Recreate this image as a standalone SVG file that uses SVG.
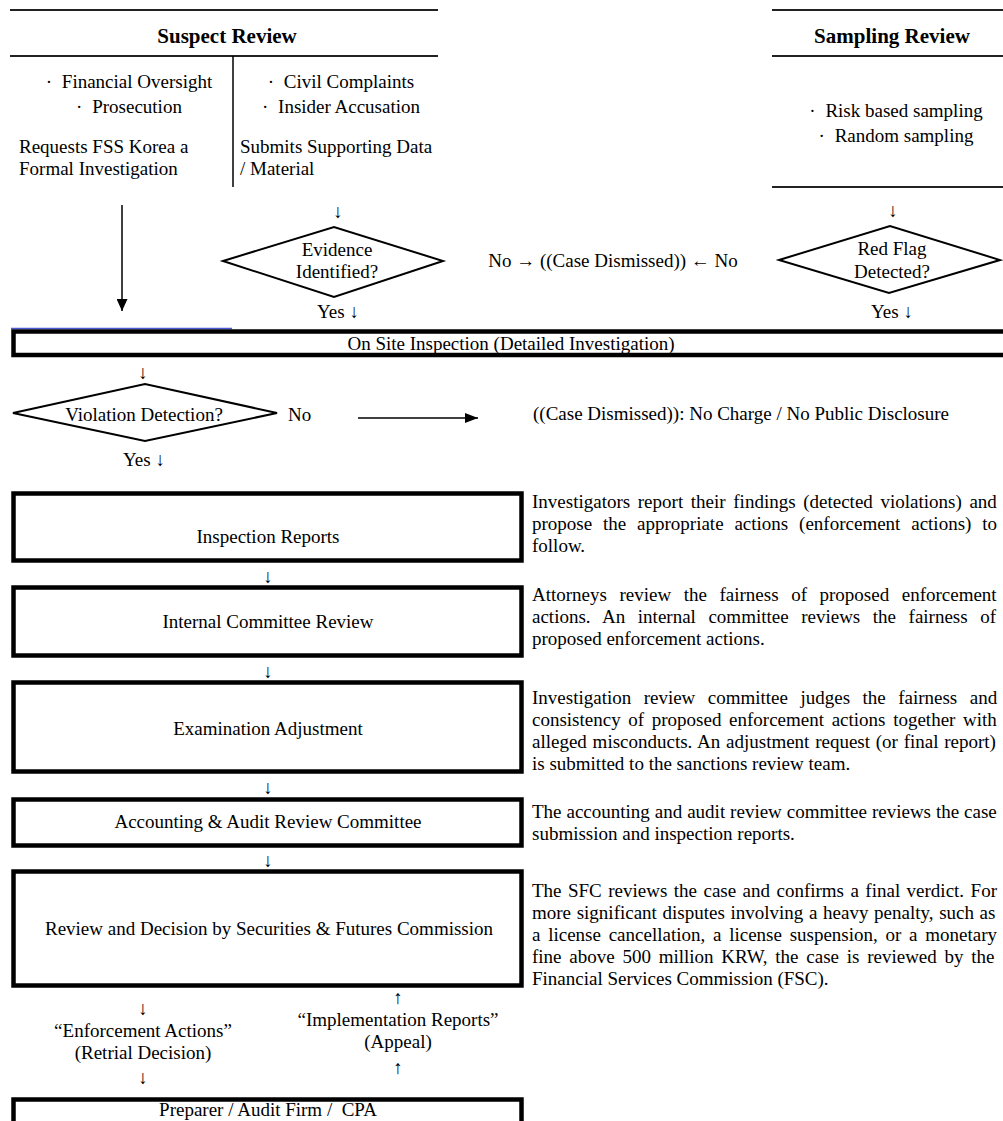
<svg xmlns="http://www.w3.org/2000/svg" width="1003" height="1121" viewBox="0 0 1003 1121">
<defs>
<marker id="ah" markerWidth="12" markerHeight="11" refX="12" refY="5.5" orient="auto" markerUnits="userSpaceOnUse"><path d="M0,0 L12,5.5 L0,11 z" fill="#000"/></marker>
<marker id="ah2" markerWidth="13" markerHeight="10" refX="13" refY="5" orient="auto" markerUnits="userSpaceOnUse"><path d="M0,0 L13,5 L0,10 z" fill="#000"/></marker>
</defs>
<style>
text{font-family:"Liberation Serif","Times New Roman",serif;font-size:19px;fill:#000}
.h{font-weight:bold;font-size:21px}
.m{text-anchor:middle}
.rule{stroke:#222;stroke-width:2;fill:none}
.box{fill:none;stroke:#000;stroke-width:4.5}
.dia{fill:none;stroke:#000;stroke-width:2}
.ln{stroke:#000;stroke-width:1.5;fill:none}
</style>
<rect width="1003" height="1121" fill="#fff"/>

<g id="suspect-review">
<line class="rule" x1="10" y1="10" x2="438" y2="10"/>
<text class="h m" x="227" y="43">Suspect Review</text>
<line class="rule" x1="10" y1="56" x2="438" y2="56"/>
<line class="ln" x1="233" y1="56" x2="233" y2="187"/>
<text class="m" x="129" y="88">· <tspan dx="5">Financial Oversight</tspan></text>
<text class="m" x="129" y="113">· <tspan dx="5">Prosecution</tspan></text>
<text x="19" y="153">Requests FSS Korea a</text>
<text x="19" y="175">Formal Investigation</text>
<text class="m" x="341" y="88">· <tspan dx="5">Civil Complaints</tspan></text>
<text class="m" x="341" y="113">· <tspan dx="5">Insider Accusation</tspan></text>
<text x="240" y="153">Submits Supporting Data</text>
<text x="240" y="175">/ Material</text>
</g>

<g id="sampling-review">
<line class="rule" x1="772" y1="10" x2="1003" y2="10"/>
<text class="h m" x="892" y="43">Sampling Review</text>
<line class="rule" x1="772" y1="56" x2="1003" y2="56"/>
<text class="m" x="896" y="117">· <tspan dx="5">Risk based sampling</tspan></text>
<text class="m" x="896" y="142">· <tspan dx="5">Random sampling</tspan></text>
<line class="rule" x1="772" y1="187" x2="1003" y2="187"/>
</g>

<g id="evidence-identified">
<polygon class="dia" points="223,261 334,227 443,261 334,297"/>
<text class="m" x="337" y="256">Evidence</text>
<text class="m" x="337" y="278">Identified?</text>
</g>

<g id="case-dismissed-1">
<text class="m" x="613" y="267">No → ((Case Dismissed)) ← No</text>
</g>

<g id="red-flag">
<polygon class="dia" points="779,260 890,226 1000,260 889,293"/>
<text class="m" x="892" y="255">Red Flag</text>
<text class="m" x="892" y="278">Detected?</text>
</g>

<g id="on-site-inspection">
<line x1="11" y1="328.5" x2="232" y2="328.5" stroke="#4a5ad8" stroke-width="1.5"/>
<rect class="box" x="13.5" y="331.5" width="1000" height="23.5"/>
<text class="m" x="511" y="350">On Site Inspection (Detailed Investigation)</text>
</g>

<g id="violation-detection">
<polygon class="dia" points="13,413 145,384 277,413 145,441"/>
<text class="m" x="144" y="421">Violation Detection?</text>
</g>

<g id="case-dismissed-2">
<text x="533" y="420">((Case Dismissed)): No Charge / No Public Disclosure</text>
</g>

<g id="inspection-reports">
<rect class="box" x="13.5" y="493.5" width="508" height="67"/>
<text class="m" x="268" y="543">Inspection Reports</text>
<text x="532" y="508" style="word-spacing:2.9px">Investigators report their findings (detected violations) and</text>
<text x="532" y="530" style="word-spacing:6.1px">propose the appropriate actions (enforcement actions) to</text>
<text x="532" y="552">follow.</text>
</g>

<g id="internal-committee-review">
<rect class="box" x="13.5" y="587.5" width="508" height="68"/>
<text class="m" x="268" y="628">Internal Committee Review</text>
<text x="532" y="601" style="word-spacing:7.8px">Attorneys review the fairness of proposed enforcement</text>
<text x="532" y="623" style="word-spacing:7.8px">actions. An internal committee reviews the fairness of</text>
<text x="532" y="645">proposed enforcement actions.</text>
</g>

<g id="examination-adjustment">
<rect class="box" x="13.5" y="682.5" width="508" height="89"/>
<text class="m" x="268" y="735">Examination Adjustment</text>
<text x="532" y="704" style="word-spacing:7.7px">Investigation review committee judges the fairness and</text>
<text x="532" y="726" style="word-spacing:2.9px">consistency of proposed enforcement actions together with</text>
<text x="532" y="748" style="word-spacing:1px">alleged misconducts. An adjustment request (or final report)</text>
<text x="532" y="770">is submitted to the sanctions review team.</text>
</g>

<g id="accounting-audit-review">
<rect class="box" x="13.5" y="799.5" width="508" height="46"/>
<text class="m" x="268" y="828">Accounting &amp; Audit Review Committee</text>
<text x="532" y="818" style="word-spacing:0.2px">The accounting and audit review committee reviews the case</text>
<text x="532" y="840">submission and inspection reports.</text>
</g>

<g id="sfc-review">
<rect class="box" x="13.5" y="871.5" width="508" height="114"/>
<text class="m" x="269" y="935">Review and Decision by Securities &amp; Futures Commission</text>
<text x="532" y="897" style="word-spacing:1.7px">The SFC reviews the case and confirms a final verdict. For</text>
<text x="532" y="919" style="word-spacing:0.9px">more significant disputes involving a heavy penalty, such as</text>
<text x="532" y="941" style="word-spacing:3px">a license cancellation, a license suspension, or a monetary</text>
<text x="532" y="963" style="word-spacing:3px">fine above 500 million KRW, the case is reviewed by the</text>
<text x="532" y="985">Financial Services Commission (FSC).</text>
</g>

<g id="preparer">
<rect class="box" x="13.5" y="1099.5" width="508" height="40"/>
<text class="m" x="268" y="1116" xml:space="preserve">Preparer / Audit Firm /  CPA</text>
</g>

<g id="connectors">
<line class="ln" x1="122" y1="205" x2="122" y2="311" marker-end="url(#ah)"/>
<text class="m" x="338" y="218">↓</text>
<text class="m" x="338" y="318">Yes ↓</text>
<text class="m" x="893" y="217">↓</text>
<text class="m" x="892" y="318">Yes ↓</text>
<text class="m" x="143" y="379">↓</text>
<text x="288" y="421">No</text>
<line class="ln" x1="358" y1="418" x2="478" y2="418" marker-end="url(#ah2)"/>
<text class="m" x="144" y="466">Yes ↓</text>
<text class="m" x="268" y="583">↓</text>
<text class="m" x="268" y="678">↓</text>
<text class="m" x="268" y="794">↓</text>
<text class="m" x="268" y="867">↓</text>
<text class="m" x="143" y="1015">↓</text>
<text class="m" x="143" y="1037">“Enforcement Actions”</text>
<text class="m" x="143" y="1059">(Retrial Decision)</text>
<text class="m" x="143" y="1084">↓</text>
<text class="m" x="398" y="1004">↑</text>
<text class="m" x="398" y="1026">“Implementation Reports”</text>
<text class="m" x="398" y="1048">(Appeal)</text>
<text class="m" x="398" y="1074">↑</text>
</g>
</svg>
